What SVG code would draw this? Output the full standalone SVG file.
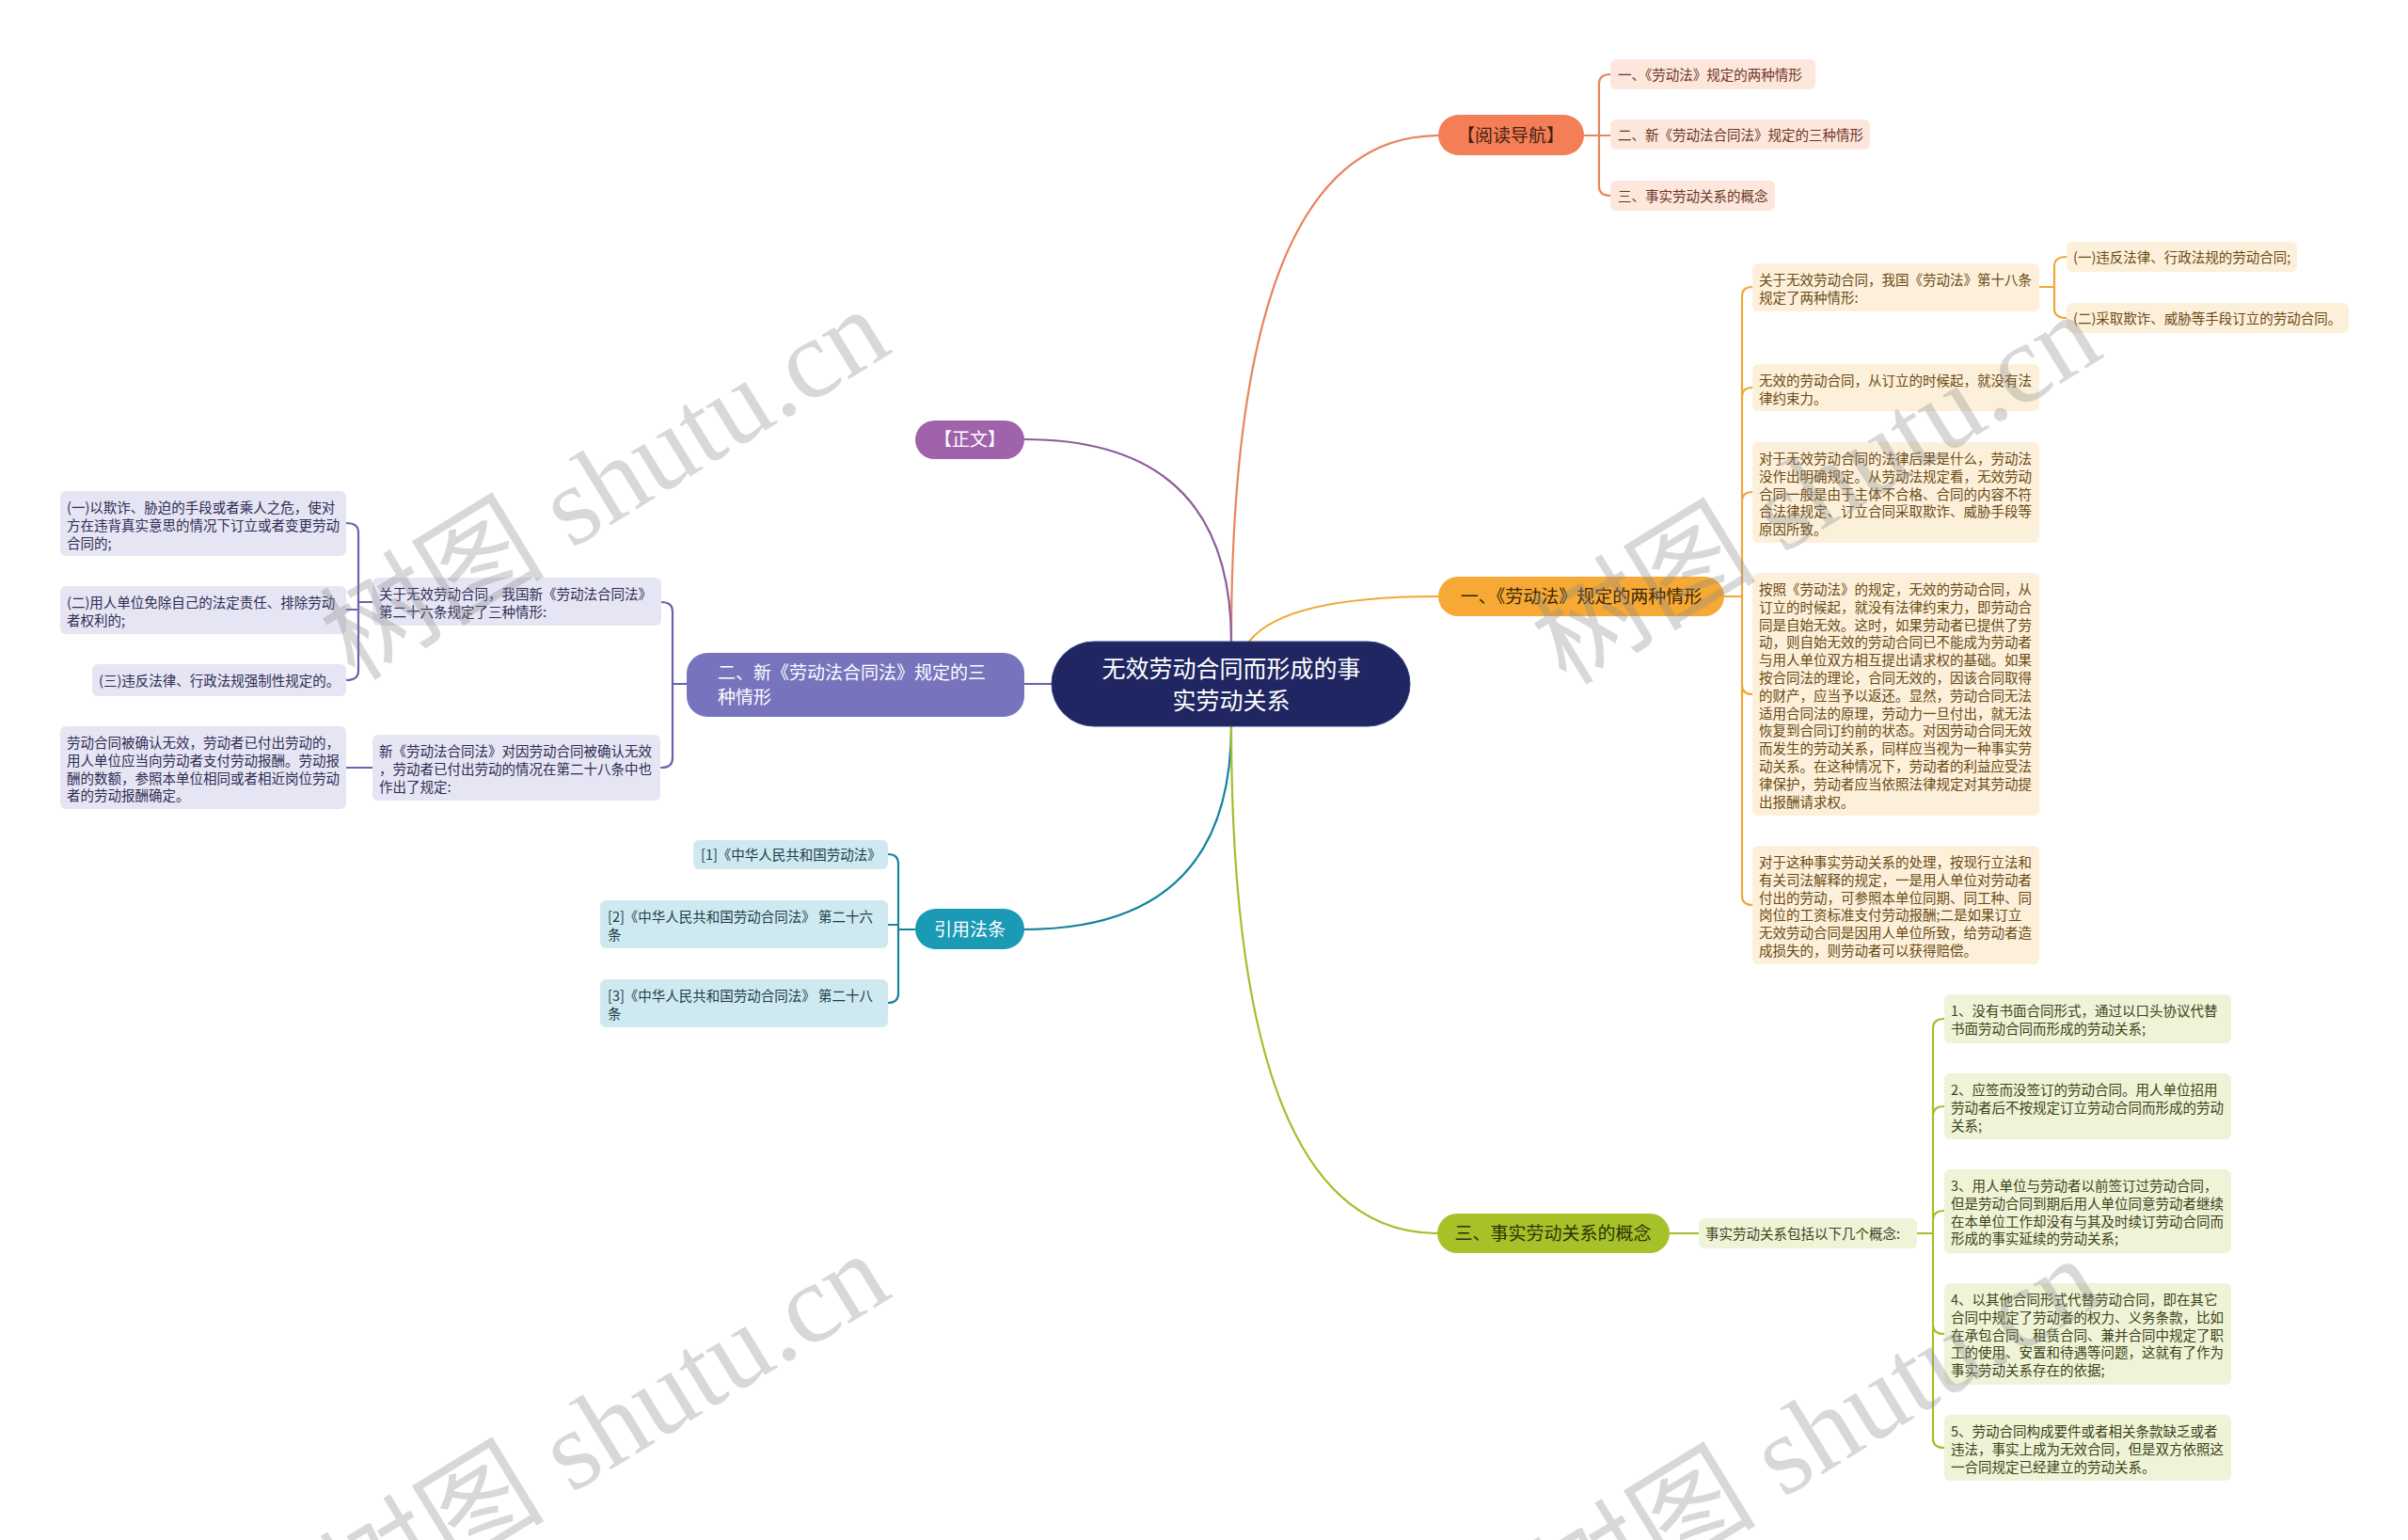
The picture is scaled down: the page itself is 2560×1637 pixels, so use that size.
<svg xmlns="http://www.w3.org/2000/svg" width="2560" height="1637" viewBox="0 0 2560 1637">
<style>
text{font-family:"Noto Sans CJK SC","Noto Sans",sans-serif;}
.s{font-size:14.5px;}
.b{font-size:19px;}
.c{font-size:25px;fill:#ffffff;}
.w{fill:#ffffff;}
.t-nav{fill:#6b3522;}
.t-amb{fill:#6a4a14;}
.t-lav{fill:#2e2c55;}
.t-blu{fill:#1d3c4b;}
.t-grn{fill:#3d4416;}
.f-nav{fill:#fde6dc;}
.f-amb{fill:#fdf0da;}
.f-lav{fill:#e6e5f3;}
.f-blu{fill:#cfe9f1;}
.f-grn{fill:#eff3d8;}
.con{fill:none;stroke-width:2.2;stroke-linecap:round;}
.wm{font-family:"Liberation Serif","Noto Sans CJK SC",serif;font-size:120px;fill:#8a8a8a;opacity:0.33;}
</style>
<rect width="2560" height="1637" fill="#ffffff"/>
<g id="connectors">
  <path class="con" stroke="#e8855c" d="M1309,682 Q1309,144 1529,144"/>
  <path class="con" stroke="#8e5c9f" d="M1309,682 Q1309,467 1089,467"/>
  <path class="con" stroke="#f0a838" d="M1328,682 Q1365,634 1529,634"/>
  <path class="con" stroke="#6763ae" d="M1118,727 H1089"/>
  <path class="con" stroke="#17849e" d="M1309,772 Q1309,988 1089,988"/>
  <path class="con" stroke="#a3bf2a" d="M1309,772 Q1309,1311 1528,1311"/>
  <path class="con" stroke="#e8855c" d="M1684,144 H1700 M1700,144 V89 Q1700,79 1712,79 M1700,144 H1712 M1700,144 V198 Q1700,208 1712,208"/>
  <path class="con" stroke="#f0a838" d="M1833,634 H1852 M1852,634 V315 Q1852,305 1863,305 M1852,634 V422 Q1852,412 1863,412 M1852,634 V533 Q1852,523 1863,523 M1852,634 V728 Q1852,738 1863,738 M1852,634 V952 Q1852,962 1863,962"/>
  <path class="con" stroke="#f0a838" d="M2168,305 H2184 M2184,305 V283 Q2184,273 2197,273 M2184,305 V328 Q2184,338 2197,338"/>
  <path class="con" stroke="#6763ae" d="M730,727 H715 M715,727 V650 Q715,640 703,640 M715,727 V806 Q715,816 703,816"/>
  <path class="con" stroke="#6763ae" d="M396,640 H381 M381,640 V566 Q381,556 368,556 M381,640 V648 H368 M381,640 V713 Q381,723 368,723"/>
  <path class="con" stroke="#6763ae" d="M396,816 H368"/>
  <path class="con" stroke="#17849e" d="M973,988 H955 M955,988 V918 Q955,908 944,908 M955,988 V983 H944 M955,988 V1056 Q955,1066 944,1066"/>
  <path class="con" stroke="#a3bf2a" d="M1775,1311 H1806"/>
  <path class="con" stroke="#a3bf2a" d="M2038,1311 H2055 M2055,1311 V1093 Q2055,1083 2067,1083 M2055,1311 V1186 Q2055,1176 2067,1176 M2055,1311 V1297 Q2055,1287 2067,1287 M2055,1311 V1408 Q2055,1418 2067,1418 M2055,1311 V1529 Q2055,1539 2067,1539"/>
</g>
<g id="center">
  <rect x="1118" y="682" width="381" height="90" rx="45" fill="#1f2662" stroke="#34407e" stroke-width="1"/>
  <text class="c" x="1309" y="720" text-anchor="middle">无效劳动合同而形成的事</text>
  <text class="c" x="1309" y="754" text-anchor="middle">实劳动关系</text>
</g>
<g id="nav">
  <rect x="1529" y="122" width="155" height="43" rx="21.5" fill="#f47f57"/>
  <text class="b t-nav" x="1606" y="151" text-anchor="middle" style="fill:#4a2010">【阅读导航】</text>
</g>
<g id="nav1"><rect class="f-nav" x="1712" y="63" width="218" height="32" rx="6"/><text class="s t-nav" x="1720" y="85">一、《劳动法》规定的两种情形</text></g>
<g id="nav2"><rect class="f-nav" x="1712" y="127" width="276" height="32" rx="6"/><text class="s t-nav" x="1720" y="149">二、新《劳动法合同法》规定的三种情形</text></g>
<g id="nav3"><rect class="f-nav" x="1712" y="192" width="175" height="32" rx="6"/><text class="s t-nav" x="1720" y="214">三、事实劳动关系的概念</text></g>
<g id="zhengwen">
  <rect x="973" y="447" width="116" height="41" rx="20.5" fill="#a062aa"/>
  <text class="b w" x="1031" y="474" text-anchor="middle">【正文】</text>
</g>
<g id="b1">
  <rect x="1529" y="613" width="304" height="42" rx="21" fill="#f6a935"/>
  <text class="b" x="1681" y="641" text-anchor="middle" fill="#3a2606">一、《劳动法》规定的两种情形</text>
</g>
<g id="b1-1"><rect class="f-amb" x="1863" y="280" width="305" height="51" rx="6"/>
  <text class="s t-amb"><tspan x="1870" y="303">关于无效劳动合同，我国《劳动法》第十八条</tspan><tspan x="1870" y="322">规定了两种情形:</tspan></text></g>
<g id="b1-1a"><rect class="f-amb" x="2197" y="257" width="245" height="32" rx="6"/><text class="s t-amb" x="2204" y="279">(一)违反法律、行政法规的劳动合同;</text></g>
<g id="b1-1b"><rect class="f-amb" x="2197" y="322" width="300" height="32" rx="6"/><text class="s t-amb" x="2204" y="344">(二)采取欺诈、威胁等手段订立的劳动合同。</text></g>
<g id="b1-2"><rect class="f-amb" x="1863" y="387" width="305" height="50" rx="6"/>
  <text class="s t-amb"><tspan x="1870" y="410">无效的劳动合同，从订立的时候起，就没有法</tspan><tspan x="1870" y="429">律约束力。</tspan></text></g>
<g id="b1-3"><rect class="f-amb" x="1863" y="470" width="305" height="107" rx="6"/>
  <text class="s t-amb"><tspan x="1870" y="493">对于无效劳动合同的法律后果是什么，劳动法</tspan><tspan x="1870" y="512">没作出明确规定。从劳动法规定看，无效劳动</tspan><tspan x="1870" y="531">合同一般是由于主体不合格、合同的内容不符</tspan><tspan x="1870" y="549">合法律规定、订立合同采取欺诈、威胁手段等</tspan><tspan x="1870" y="568">原因所致。</tspan></text></g>
<g id="b1-4"><rect class="f-amb" x="1863" y="609" width="305" height="258" rx="6"/>
  <text class="s t-amb"><tspan x="1870" y="632">按照《劳动法》的规定，无效的劳动合同，从</tspan><tspan x="1870" y="651">订立的时候起，就没有法律约束力，即劳动合</tspan><tspan x="1870" y="670">同是自始无效。这时，如果劳动者已提供了劳</tspan><tspan x="1870" y="688">动，则自始无效的劳动合同已不能成为劳动者</tspan><tspan x="1870" y="707">与用人单位双方相互提出请求权的基础。如果</tspan><tspan x="1870" y="726">按合同法的理论，合同无效的，因该合同取得</tspan><tspan x="1870" y="745">的财产，应当予以返还。显然，劳动合同无法</tspan><tspan x="1870" y="764">适用合同法的原理，劳动力一旦付出，就无法</tspan><tspan x="1870" y="782">恢复到合同订约前的状态。对因劳动合同无效</tspan><tspan x="1870" y="801">而发生的劳动关系，同样应当视为一种事实劳</tspan><tspan x="1870" y="820">动关系。在这种情况下，劳动者的利益应受法</tspan><tspan x="1870" y="839">律保护，劳动者应当依照法律规定对其劳动提</tspan><tspan x="1870" y="858">出报酬请求权。</tspan></text></g>
<g id="b1-5"><rect class="f-amb" x="1863" y="899" width="305" height="126" rx="6"/>
  <text class="s t-amb"><tspan x="1870" y="922">对于这种事实劳动关系的处理，按现行立法和</tspan><tspan x="1870" y="941">有关司法解释的规定，一是用人单位对劳动者</tspan><tspan x="1870" y="960">付出的劳动，可参照本单位同期、同工种、同</tspan><tspan x="1870" y="978">岗位的工资标准支付劳动报酬;二是如果订立</tspan><tspan x="1870" y="997">无效劳动合同是因用人单位所致，给劳动者造</tspan><tspan x="1870" y="1016">成损失的，则劳动者可以获得赔偿。</tspan></text></g>
<g id="b2">
  <rect x="730" y="694" width="359" height="68" rx="22" fill="#7774bd"/>
  <text class="b w"><tspan x="763" y="722">二、新《劳动法合同法》规定的三</tspan><tspan x="763" y="748">种情形</tspan></text>
</g>
<g id="b2-1"><rect class="f-lav" x="396" y="614" width="307" height="51" rx="6"/>
  <text class="s t-lav"><tspan x="403" y="637">关于无效劳动合同，我国新《劳动法合同法》</tspan><tspan x="403" y="656">第二十六条规定了三种情形:</tspan></text></g>
<g id="b2-1a"><rect class="f-lav" x="64" y="522" width="304" height="69" rx="6"/>
  <text class="s t-lav"><tspan x="71" y="545">(一)以欺诈、胁迫的手段或者乘人之危，使对</tspan><tspan x="71" y="564">方在违背真实意思的情况下订立或者变更劳动</tspan><tspan x="71" y="583">合同的;</tspan></text></g>
<g id="b2-1b"><rect class="f-lav" x="64" y="623" width="304" height="51" rx="6"/>
  <text class="s t-lav"><tspan x="71" y="646">(二)用人单位免除自己的法定责任、排除劳动</tspan><tspan x="71" y="665">者权利的;</tspan></text></g>
<g id="b2-1c"><rect class="f-lav" x="98" y="706" width="270" height="34" rx="6"/>
  <text class="s t-lav" x="105" y="729">(三)违反法律、行政法规强制性规定的。</text></g>
<g id="b2-2"><rect class="f-lav" x="396" y="781" width="306" height="70" rx="6"/>
  <text class="s t-lav"><tspan x="403" y="804">新《劳动法合同法》对因劳动合同被确认无效</tspan><tspan x="403" y="823">，劳动者已付出劳动的情况在第二十八条中也</tspan><tspan x="403" y="842">作出了规定:</tspan></text></g>
<g id="b2-2a"><rect class="f-lav" x="64" y="772" width="304" height="88" rx="6"/>
  <text class="s t-lav"><tspan x="71" y="795">劳动合同被确认无效，劳动者已付出劳动的，</tspan><tspan x="71" y="814">用人单位应当向劳动者支付劳动报酬。劳动报</tspan><tspan x="71" y="833">酬的数额，参照本单位相同或者相近岗位劳动</tspan><tspan x="71" y="851">者的劳动报酬确定。</tspan></text></g>
<g id="cite">
  <rect x="973" y="966" width="116" height="43" rx="21.5" fill="#1b9ab6"/>
  <text class="b w" x="1031" y="995" text-anchor="middle">引用法条</text>
</g>
<g id="cite1"><rect class="f-blu" x="737" y="893" width="207" height="31" rx="6"/><text class="s t-blu" x="745" y="914">[1]《中华人民共和国劳动法》</text></g>
<g id="cite2"><rect class="f-blu" x="638" y="957" width="306" height="51" rx="6"/>
  <text class="s t-blu"><tspan x="646" y="980">[2]《中华人民共和国劳动合同法》 第二十六</tspan><tspan x="646" y="999">条</tspan></text></g>
<g id="cite3"><rect class="f-blu" x="638" y="1041" width="306" height="51" rx="6"/>
  <text class="s t-blu"><tspan x="646" y="1064">[3]《中华人民共和国劳动合同法》 第二十八</tspan><tspan x="646" y="1083">条</tspan></text></g>
<g id="b3">
  <rect x="1528" y="1290" width="247" height="42" rx="21" fill="#a6c228"/>
  <text class="b" x="1651" y="1318" text-anchor="middle" fill="#2e3208">三、事实劳动关系的概念</text>
</g>
<g id="b3-0"><rect class="f-grn" x="1806" y="1295" width="232" height="32" rx="6"/><text class="s t-grn" x="1813" y="1317">事实劳动关系包括以下几个概念:</text></g>
<g id="b3-1"><rect class="f-grn" x="2067" y="1057" width="305" height="52" rx="6"/>
  <text class="s t-grn"><tspan x="2074" y="1080">1、没有书面合同形式，通过以口头协议代替</tspan><tspan x="2074" y="1099">书面劳动合同而形成的劳动关系;</tspan></text></g>
<g id="b3-2"><rect class="f-grn" x="2067" y="1141" width="305" height="70" rx="6"/>
  <text class="s t-grn"><tspan x="2074" y="1164">2、应签而没签订的劳动合同。用人单位招用</tspan><tspan x="2074" y="1183">劳动者后不按规定订立劳动合同而形成的劳动</tspan><tspan x="2074" y="1202">关系;</tspan></text></g>
<g id="b3-3"><rect class="f-grn" x="2067" y="1243" width="305" height="89" rx="6"/>
  <text class="s t-grn"><tspan x="2074" y="1266">3、用人单位与劳动者以前签订过劳动合同，</tspan><tspan x="2074" y="1285">但是劳动合同到期后用人单位同意劳动者继续</tspan><tspan x="2074" y="1304">在本单位工作却没有与其及时续订劳动合同而</tspan><tspan x="2074" y="1322">形成的事实延续的劳动关系;</tspan></text></g>
<g id="b3-4"><rect class="f-grn" x="2067" y="1364" width="305" height="108" rx="6"/>
  <text class="s t-grn"><tspan x="2074" y="1387">4、以其他合同形式代替劳动合同，即在其它</tspan><tspan x="2074" y="1406">合同中规定了劳动者的权力、义务条款，比如</tspan><tspan x="2074" y="1425">在承包合同、租赁合同、兼并合同中规定了职</tspan><tspan x="2074" y="1443">工的使用、安置和待遇等问题，这就有了作为</tspan><tspan x="2074" y="1462">事实劳动关系存在的依据;</tspan></text></g>
<g id="b3-5"><rect class="f-grn" x="2067" y="1504" width="305" height="70" rx="6"/>
  <text class="s t-grn"><tspan x="2074" y="1527">5、劳动合同构成要件或者相关条款缺乏或者</tspan><tspan x="2074" y="1546">违法，事实上成为无效合同，但是双方依照这</tspan><tspan x="2074" y="1565">一合同规定已经建立的劳动关系。</tspan></text></g>
<g id="watermark">
  <text class="wm" transform="translate(377,725) rotate(-31.5)">树图 shutu.cn</text>
  <text class="wm" transform="translate(1665,730) rotate(-31.5)">树图 shutu.cn</text>
  <text class="wm" transform="translate(377,1729) rotate(-31.5)">树图 shutu.cn</text>
  <text class="wm" transform="translate(1665,1734) rotate(-31.5)">树图 shutu.cn</text>
</g>
</svg>
